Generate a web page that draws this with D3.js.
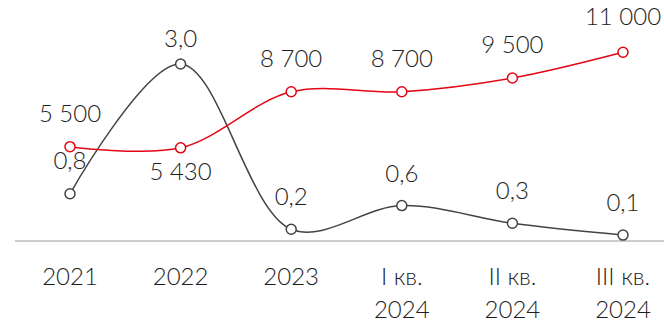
<!DOCTYPE html>
<html>
<head>
<meta charset="utf-8">
<script src="https://cdn.jsdelivr.net/npm/d3@7"></script>
<style>
  html, body { margin: 0; padding: 0; background: #fff; }
  svg text { font-family: Lato, "Open Sans", sans-serif; font-weight: 300; fill: #1e1e1e; }
</style>
</head>
<body>
<svg id="chart" width="664" height="327"></svg>
<script>
// Periods on the x axis (second line of each label after "|")
const categories = ["2021", "2022", "2023", "I кв.|2024", "II кв.|2024", "III кв.|2024"];
// Red series
const redValues = [5500, 5430, 8700, 8700, 9500, 11000];
const redLabels = ["5 500", "5 430", "8 700", "8 700", "9 500", "11 000"];
// Dark series
const grayValues = [0.8, 3.0, 0.2, 0.6, 0.3, 0.1];
const grayLabels = ["0,8", "3,0", "0,2", "0,6", "0,3", "0,1"];

// Label placement: vertical offset of each value label from its point
const redLabelDy = [-25, 32, -25, -25, -25, -27];
const grayLabelDy = [-25, -17, -24, -24, -24, -24];

const svg = d3.select("#chart");
const baseY = 241;
const fontSize = "24px";

const x = d3.scalePoint().domain(categories).range([70, 623]);
const yGray = d3.scaleLinear().domain([0, 3]).range([baseY, 64]);
const yRed = d3.scaleLinear().domain([0, 11000]).range([baseY, 52.3]);

// Baseline
svg.append("line")
  .attr("x1", 15).attr("x2", 664)
  .attr("y1", baseY).attr("y2", baseY)
  .attr("stroke", "#bdbdbd").attr("stroke-width", 1.5);

// X axis labels
const xAxis = svg.append("g");
categories.forEach(c => {
  const lines = c.split("|");
  const t = xAxis.append("text")
    .attr("x", x(c)).attr("y", 285)
    .attr("text-anchor", "middle")
    .style("font-size", fontSize);
  lines.forEach((l, i) => {
    t.append("tspan").attr("x", x(c)).attr("dy", i === 0 ? 0 : 33).text(l);
  });
});

function drawSeries(values, labels, dys, yScale, color) {
  const pts = values.map((v, i) => [x(categories[i]), yScale(v)]);
  const line = d3.line().curve(d3.curveCatmullRom.alpha(0.5));
  svg.append("path")
    .attr("d", line(pts))
    .attr("fill", "none")
    .attr("stroke", color)
    .attr("stroke-width", 1.5);
  svg.append("g").selectAll("circle")
    .data(pts).join("circle")
    .attr("cx", d => d[0]).attr("cy", d => d[1])
    .attr("r", 5)
    .attr("fill", "#fff")
    .attr("stroke", color)
    .attr("stroke-width", 1.5);
  svg.append("g").selectAll("text")
    .data(pts).join("text")
    .attr("x", d => d[0])
    .attr("y", (d, i) => d[1] + dys[i])
    .attr("text-anchor", "middle")
    .style("font-size", fontSize)
    .text((d, i) => labels[i]);
}

drawSeries(grayValues, grayLabels, grayLabelDy, yGray, "#444444");
drawSeries(redValues, redLabels, redLabelDy, yRed, "#e30613");
</script>
</body>
</html>
